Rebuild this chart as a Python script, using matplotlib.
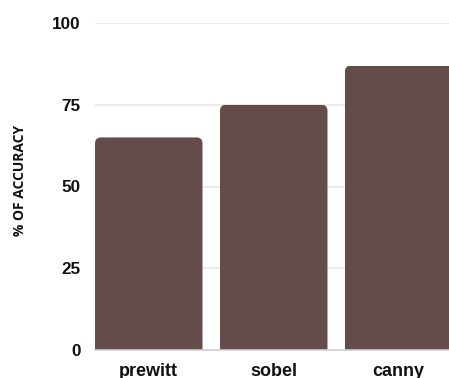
import matplotlib
matplotlib.use("Agg")
import matplotlib.pyplot as plt
from matplotlib.patches import FancyBboxPatch

categories = ["prewitt", "sobel", "canny"]
accuracy = [65, 75, 87]
y_ticks = [0, 25, 50, 75, 100]

BAR_COLOR = "#654b4a"
GRID_COLOR = "#e8e8e8"

fig = plt.figure(figsize=(4.49, 3.78), dpi=100)
ax = fig.add_axes([95 / 449, 28 / 378, 357.5 / 449, 327 / 378])

x = list(range(len(categories)))
bars = ax.bar(x, accuracy, width=0.86, color=BAR_COLOR, zorder=3)

ax.set_xlim(-0.43, 2.43)
ax.set_ylim(0, 100)

# round the top corners of each bar with a clip box that reaches below zero
ax_w_px = 357.5
ax_h_px = 327
r_px = 6
rx = r_px * (ax.get_xlim()[1] - ax.get_xlim()[0]) / ax_w_px
ry = r_px * (ax.get_ylim()[1] - ax.get_ylim()[0]) / ax_h_px
for b in bars:
    clip = FancyBboxPatch((b.get_x(), -20), b.get_width(), b.get_height() + 20,
                          boxstyle=f"round,pad=0,rounding_size={rx}",
                          mutation_aspect=ry / rx,
                          transform=ax.transData, facecolor="none", edgecolor="none")
    ax.add_patch(clip)
    clip.set_visible(False)
    b.set_clip_path(clip)

ax.set_yticks(y_ticks)
ax.set_yticklabels([str(v) for v in y_ticks])
ax.set_xticks(x)
ax.set_xticklabels(categories)
ax.yaxis.grid(True, color=GRID_COLOR, linewidth=1.2, zorder=0)
ax.set_axisbelow(True)
for s in ["top", "right", "left"]:
    ax.spines[s].set_visible(False)
ax.spines["bottom"].set_color("#d0d0d0")
ax.spines["bottom"].set_linewidth(1.2)
ax.spines["bottom"].set_zorder(4)
ax.tick_params(axis="both", length=0)
ax.tick_params(axis="y", pad=10.5)
ax.tick_params(axis="x", pad=9)

for lab in ax.get_yticklabels():
    lab.set_fontfamily("Liberation Sans")
    lab.set_fontweight("bold")
    lab.set_fontsize(12.3)
    lab.set_color("#111111")
for lab in ax.get_xticklabels():
    lab.set_fontfamily("Liberation Sans")
    lab.set_fontweight("bold")
    lab.set_fontsize(13)
    lab.set_color("#111111")

fig.text(20 / 449, 1 - 180 / 378, "% OF ACCURACY", rotation=90,
         ha="center", va="center", fontsize=10, fontweight="bold",
         family="Open Sans", color="#111111")

fig.savefig("out.png", dpi=100)
